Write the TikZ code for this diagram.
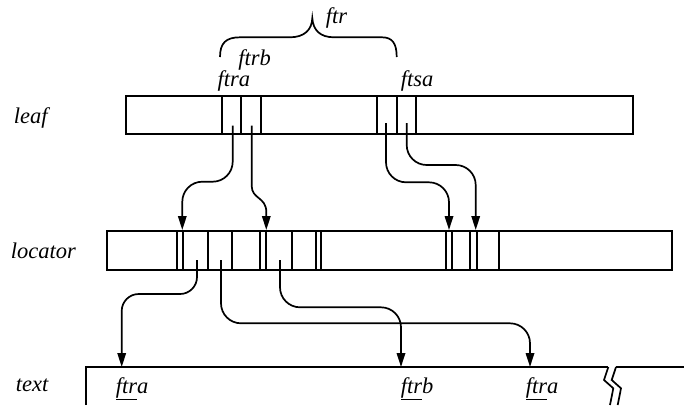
\documentclass[tikz,border=0pt]{standalone}
\usepackage{fontspec}
\setmainfont{Liberation Serif}[ItalicFont={Liberation Serif Italic}]
\usetikzlibrary{arrows.meta}
\begin{document}
\begin{tikzpicture}[x=1pt,y=-1pt,
  line width=1.7pt,
  lbl/.style={font=\fontsize{22.5}{25}\selectfont\itshape, inner sep=0pt, anchor=base west},
  box/.style={draw, rectangle, inner sep=0pt, anchor=north west, line width=1.8pt},
  conn/.style={-{Triangle[length=14pt,width=8.5pt]}, rounded corners=20pt},
]
\useasboundingbox (0,0) rectangle (684,405);

% records
\node[box, minimum width=506.7pt, minimum height=38.3pt] (leaf) at (125,95) {};
\node[box, minimum width=565pt, minimum height=39pt] (locator) at (105.7,230) {};
\foreach \x in {221.7,241,260.7,376.7,396.7,416} \draw (\x,95) -- (\x,133.3);
\foreach \x in {177.3,183.3,208.3,231.7,260,265.7,292.3,315.7,320.7,446,452,470,476.7,499.3}
  \draw (\x,230) -- (\x,269);

% text region with break
\draw (86,405) -- (86,367) -- (608.3,367);
\draw (616,367) -- (684,367);
\draw (608.3,367) -- (604,380) -- (613.3,388.3) -- (610,405);
\draw (616,367) -- (611.7,380) -- (621,388.3) -- (617.7,405);

% brace
\draw (220,57) .. controls (220,43) and (226,37.3) .. (240,37.3) -- (290,37.3)
  .. controls (304,37.3) and (312,30) .. (312.3,18)
  .. controls (313,30) and (320,37.3) .. (334,37.3) -- (382,37.3)
  .. controls (392,37.3) and (396.7,43) .. (396.7,57);

% labels
\node[lbl] (lleaf) at (13,123.3) {leaf};
\node[lbl] (lloc) at (10,258) {locator};
\node[lbl] (ltext) at (15,391.7) {text};
\node[lbl] (lftr) at (325,23.3) {ftr};
\node[lbl] (lftrb) at (237.5,65) {ftrb};
\node[lbl] (lftra) at (216.7,86.5) {ftra};
\node[lbl] (lftsa) at (400,86.5) {ftsa};
\node[lbl] (w1) at (115,393.3) {\underline{ftr}a};
\node[lbl] (w2) at (400,393.3) {\underline{ftr}b};
\node[lbl] (w3) at (525,393.3) {\underline{ftr}a};

% connector end points
\coordinate (a1) at (232.7,125.7);
\coordinate (a2) at (251.7,125.7);
\coordinate (a3) at (386,123);
\coordinate (a4) at (406.7,123);
\coordinate (t1) at (182.3,230);
\coordinate (t2) at (266.3,230);
\coordinate (t3) at (449,230);
\coordinate (t4) at (475.7,230);
\coordinate (b1) at (197,260);
\coordinate (b2) at (221,260);
\coordinate (b3) at (280,260);
\coordinate (u1) at (121.7,367);
\coordinate (u2) at (401,367);
\coordinate (u3) at (530,367);

% connectors
\draw[conn] (a1) |- (182.3,181.7) -- (t1);
\draw[-{Triangle[length=14pt,width=8.5pt]}] (a2) -- (251.7,186)
  .. controls (251.7,199) and (266.3,197) .. (266.3,212) -- (t2);
\draw[conn] (a3) |- (449,182.3) -- (t3);
\draw[conn] (a4) |- (475.7,165) -- (t4);
\draw[conn, rounded corners=17pt] (b1) |- (121.7,294) -- (u1);
\draw[conn] (b2) |- (530,323.3) -- (u3);
\draw[conn] (b3) |- (401,307.3) -- (u2);
\end{tikzpicture}
\end{document}
